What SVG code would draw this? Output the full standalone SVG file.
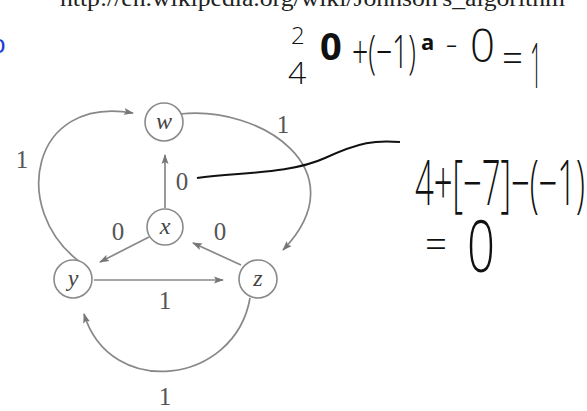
<svg xmlns="http://www.w3.org/2000/svg" width="587" height="411" viewBox="0 0 587 411">
<defs>
<marker id="ah" markerWidth="10" markerHeight="8" refX="9" refY="4" orient="auto" markerUnits="userSpaceOnUse">
<path d="M0,0.5 L10,4 L0,7.5 L2,4 Z" fill="#777"/>
</marker>
<style>
.node circle{fill:#fff;stroke:#8a8a8a;stroke-width:1.6}
.node text{font-family:"Liberation Serif",serif;font-style:italic;font-size:24px;fill:#444;text-anchor:middle}
.edge{fill:none;stroke:#888;stroke-width:1.7;marker-end:url(#ah)}
.wt{font-family:"Liberation Serif",serif;font-size:25px;fill:#555;text-anchor:middle}
.hand{font-family:"Open Sans","Liberation Sans",sans-serif;font-weight:300;fill:#111}
</style>
</defs>
<rect width="587" height="411" fill="#fff"/>
<text x="60" y="6" font-family="Liberation Serif, serif" font-size="23" fill="#222" textLength="505" lengthAdjust="spacingAndGlyphs">http://en.wikipedia.org/wiki/Johnson's_algorithm</text>
<text x="-9" y="53" font-family="Liberation Sans, sans-serif" font-size="26" fill="#1d3fd0">o</text>
<g id="connectors">
<path class="edge" d="M80,262 C10,210 30,95 133,113"/>
<path class="edge" d="M180,114 C260,105 360,170 283,250"/>
<path class="edge" d="M165,208 L165,155"/>
<path class="edge" d="M149,237 L100,262"/>
<path class="edge" d="M241,265 L193,243"/>
<path class="edge" d="M94,280 L223,280"/>
<path class="edge" d="M250,298 C235,385 110,400 84,314"/>
</g>
<g id="weights">
<text class="wt" x="22" y="168">1</text>
<text class="wt" x="283" y="133">1</text>
<text class="wt" x="182" y="190">0</text>
<text class="wt" x="118" y="240">0</text>
<text class="wt" x="220" y="240">0</text>
<text class="wt" x="165" y="309">1</text>
<text class="wt" x="165" y="405">1</text>
</g>
<g id="node-w" class="node"><circle cx="164" cy="122" r="19"/><text x="164" y="129">w</text></g>
<g id="node-x" class="node"><circle cx="165" cy="227" r="18"/><text x="165" y="234">x</text></g>
<g id="node-y" class="node"><circle cx="73" cy="279" r="19"/><text x="73" y="286">y</text></g>
<g id="node-z" class="node"><circle cx="258" cy="279" r="19"/><text x="258" y="286">z</text></g>
<g id="handwriting">
<path d="M197,178 C240,172 290,174 325,158 S375,140 400,142" fill="none" stroke="#111" stroke-width="2"/>
<text class="hand" x="291" y="44" font-size="24">2</text>
<text class="hand" x="288" y="84" font-size="32">4</text>
<text class="hand" x="320" y="60" font-size="38" style="font-weight:bold">0</text>
<text class="hand" transform="translate(352,68) scale(1,1.65)" x="0" y="0" font-size="28" textLength="64" lengthAdjust="spacingAndGlyphs">+(−1)</text>
<text class="hand" x="421" y="50" font-size="22" style="font-weight:bold" fill="#333">a</text>
<text class="hand" transform="translate(446,58) scale(1,1.7)" x="0" y="0" font-size="20" textLength="11" lengthAdjust="spacingAndGlyphs">−</text>
<text class="hand" transform="translate(470,62) scale(1,1.75)" x="0" y="0" font-size="26" textLength="25" lengthAdjust="spacingAndGlyphs">0</text>
<text class="hand" transform="translate(502,72) scale(1,1.8)" x="0" y="0" font-size="22" textLength="21" lengthAdjust="spacingAndGlyphs">=</text>
<text class="hand" transform="translate(530,88) scale(1,3)" x="0" y="0" font-size="21" textLength="12" lengthAdjust="spacingAndGlyphs">1</text>
<text class="hand" transform="translate(415,205) scale(1,1.88)" x="0" y="0" font-size="33" textLength="170" lengthAdjust="spacingAndGlyphs">4+[−7]−(−1)</text>
<text class="hand" transform="translate(425,258) scale(1,1.8)" x="0" y="0" font-size="22" textLength="22" lengthAdjust="spacingAndGlyphs">=</text>
<text class="hand" transform="translate(467,272) scale(1,1.45)" x="0" y="0" font-size="50" textLength="28" lengthAdjust="spacingAndGlyphs">0</text>
</g>
</svg>
